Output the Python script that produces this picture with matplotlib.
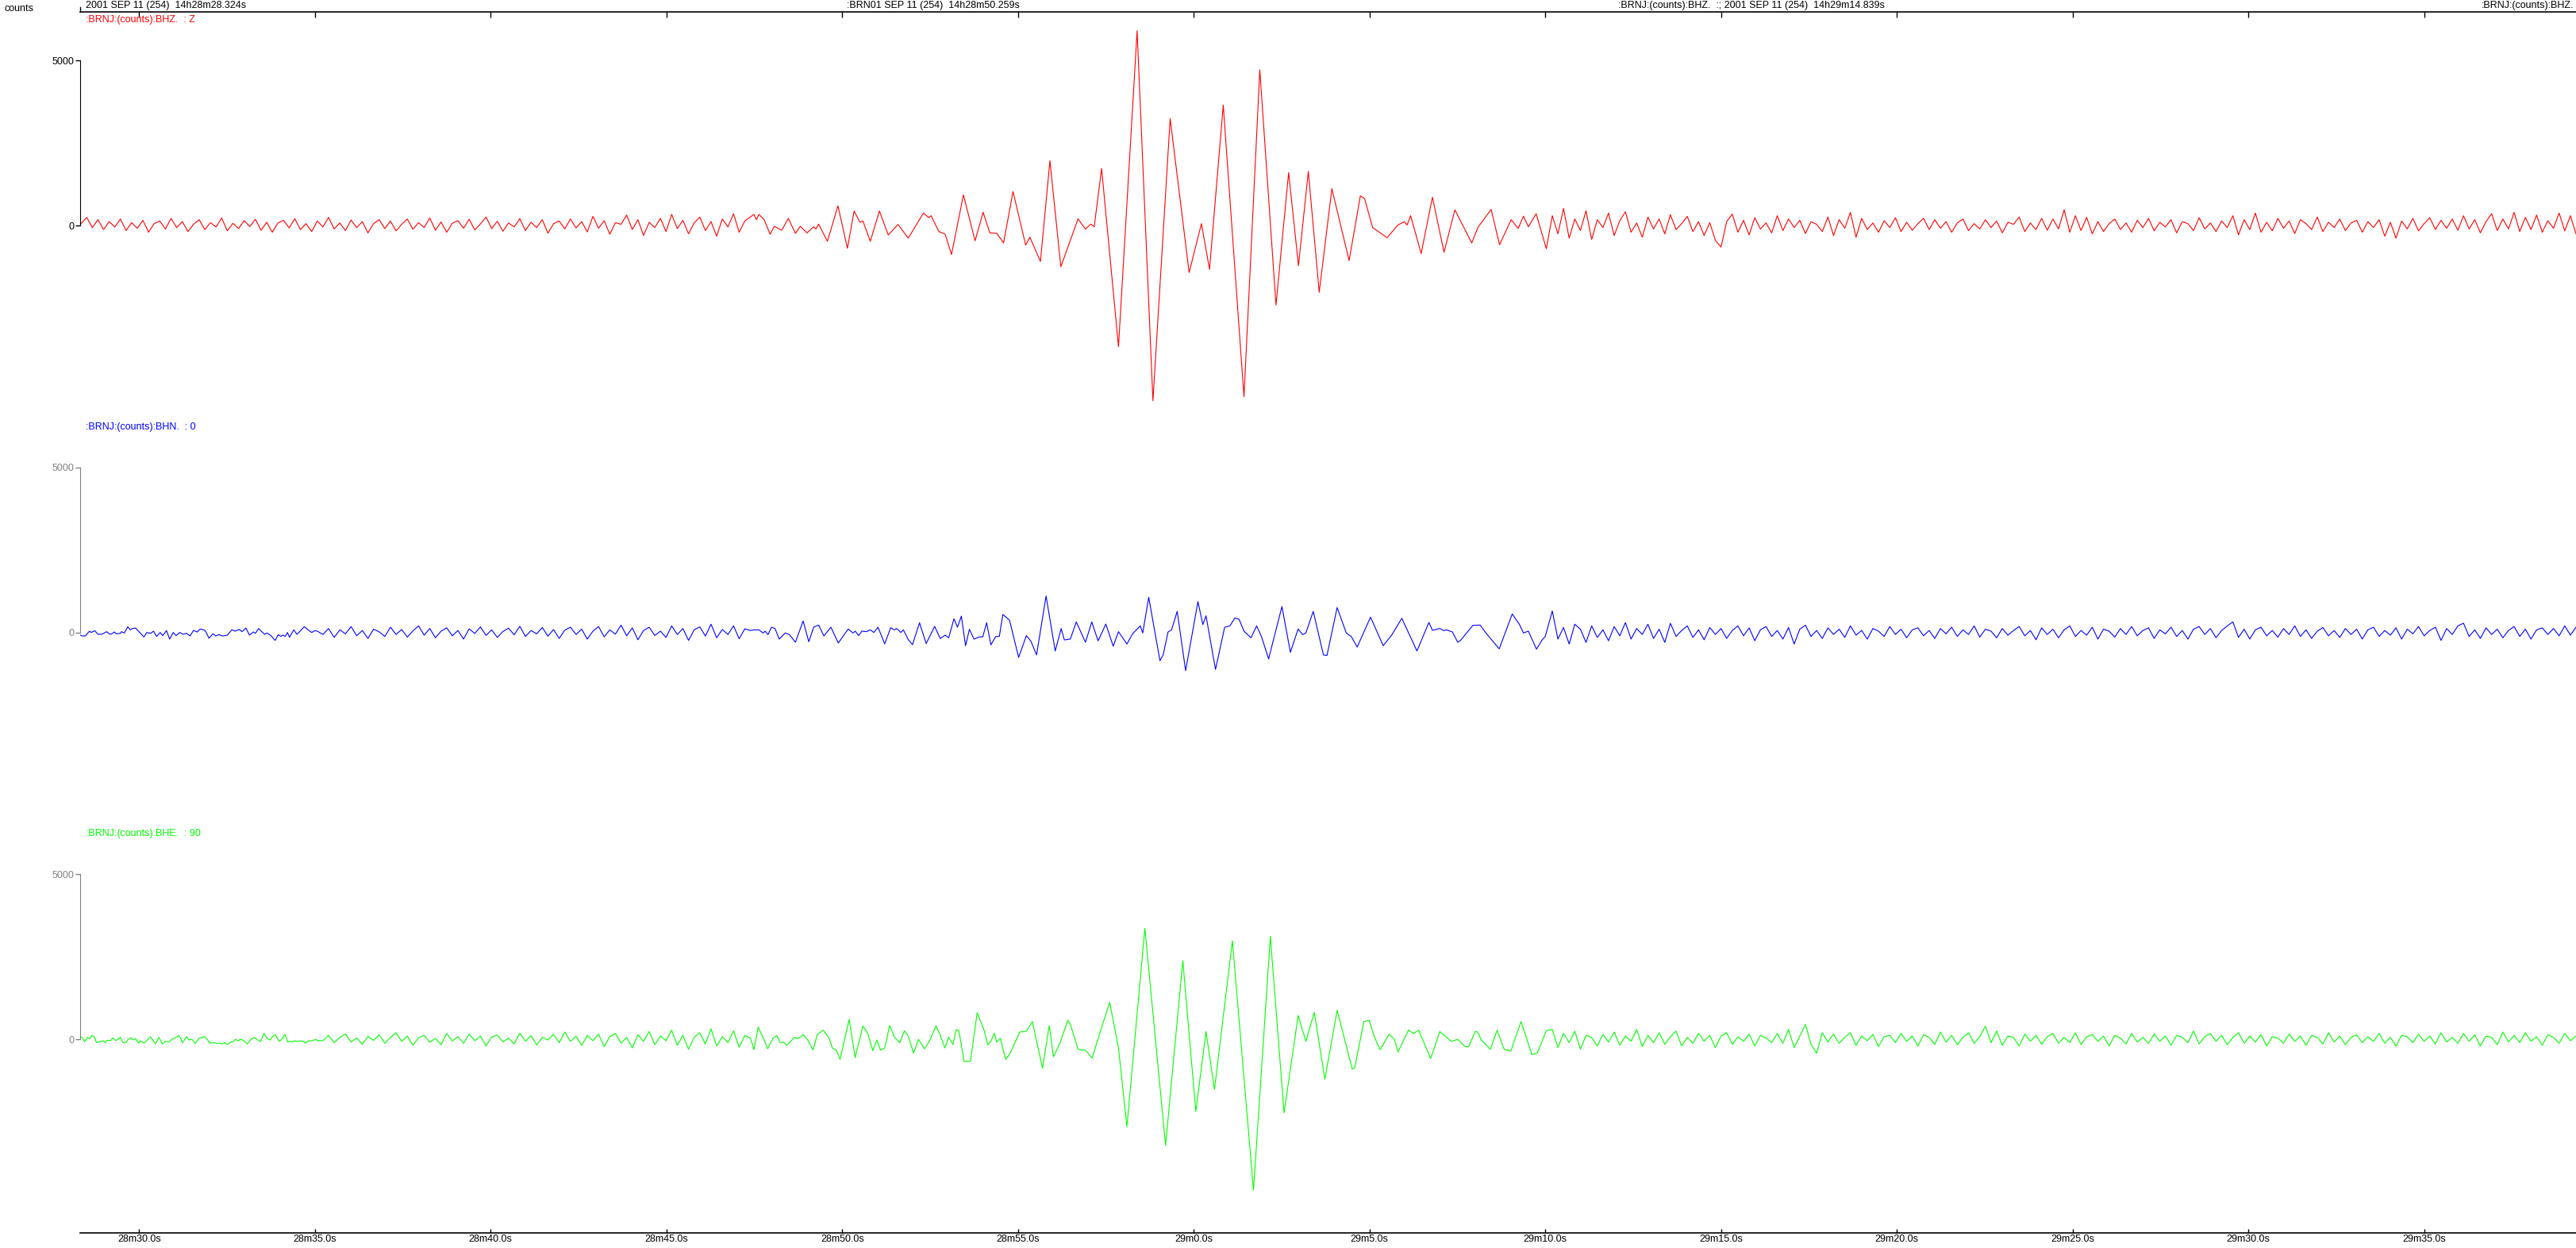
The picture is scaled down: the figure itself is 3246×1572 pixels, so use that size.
import numpy as np
import matplotlib.pyplot as plt
from matplotlib.lines import Line2D

plt.rcParams['font.family'] = ['Liberation Sans', 'DejaVu Sans']

# time axis: seconds after 14h28m00s, amplitude in counts
t_start = 28.324
t_end = 99.32
noise_dt = 0.16   # spacing of the hand-read background wiggles

# ---------------- BHZ (red) ----------------
bhz_left = [60, 250, -60, 180, -120, 120, -40, 200, -150, 90,
            -80, 160, -200, 60, 140, -100, 220, -60, 120, -180,
            40, 180, -120, 90, -40, 230, -160, 70, -90, 150,
            -30, 190, -140, 100, -200, 80, 160, -70, 210, -120,
            60, -180, 140, -40, 250, -100, 80, -150, 170, -60,
            120, -220, 60, 180, -90, 140, -160, 40, 200, -110,
            90, -60, 230, -140, 110, -200, 70, 150, -80, 190,
            -130, 50, 260, -90, 130, -170, 80, -40, 210, -150,
            100, -60, 180, -230, 60, 140, -100, 200, -70, 120,
            -190, 280, -80, 150, -260, 90, 40, 320, -120, 180,
            -300, 100, -60, 220, -180, 340, -90, 160, -250, 80,
            260, -150, 120, -320, 200, -40, 360, -200, 140]
bhz_left_t0 = 28.35

bhz_t = [47.49, 47.56, 47.63, 47.78, 47.95, 48.07, 48.28, 48.47, 48.67, 48.81, 49.00, 49.19, 49.25, 49.33,
         49.58, 49.88, 50.15, 50.34, 50.51, 50.59, 50.80, 51.06, 51.31, 51.59, 51.88, 52.31, 52.46, 52.53,
         52.75, 52.93, 53.11, 53.45, 53.78, 54.01, 54.20, 54.40, 54.59, 54.86, 55.22, 55.34, 55.64, 55.91,
         56.22, 56.71, 56.92, 57.07, 57.17, 57.38, 57.86, 58.39, 58.84, 59.33, 59.87, 60.22, 60.45, 60.84,
         61.43, 61.88, 62.34, 62.70, 62.98, 63.26, 63.57, 63.93, 64.42, 64.74, 64.86, 65.09, 65.50, 65.81,
         65.99, 66.07, 66.17, 66.47, 66.79, 67.12, 67.43, 67.59, 67.91, 68.08, 68.46, 68.70, 69.03, 69.23,
         69.38, 69.52, 69.74, 70.03]
bhz_c = [340, 180, 340, 180, -260, -20, -140, 220, -235, -20, -220, -35, -100, 45,
         -475, 600, -685, 440, 100, 140, -475, 445, -285, 35, -380, 380, 245, 300,
         -180, -260, -875, 930, -460, 405, -220, -235, -525, 1030, -590, -350, -1085, 1965,
         -1245, 205, -105, 45, -35, 1730, -3665, 5900, -5305, 3240, -1420, 60, -1325, 3650,
         -5185, 4720, -2405, 1605, -1215, 1640, -2020, 1120, -1060, 900, 820, -60, -365, 20,
         120, 20, 300, -845, 860, -805, 480, 140, -525, -60, 490, -580, 180, -85,
         285, -35, 360, -700]

bhz_right = [300, -250, 520, -380, 200, -150, 450, -420, 180, -60,
             380, -300, 150, 420, -200, 80, -350, 260, -100, 200,
             -250, 330, -120, 60, 280, -180, 120, -300, 90, -450,
             -650, 120, 350, -200, 160, -280, 240, -100, 80, -220,
             300, -150, 200, -60, 160, -240, 120, 40, -180, 260,
             -300, 180, -80, 400, -350, 220, -120, 80, -200, 150,
             -60, 240, -180, 100, -140, 60, 220, -120, 180, -80,
             120, -200, 80, 200, -150, 60, -100, 180, -60, 140,
             -220, 100, 40, 260, -180, 80, -120, 220, -140, 200,
             -100, 480, -200, 300, -150, 250, -250, 120, -180, 60,
             200, -120, 80, -200, 160, -60, 220, -160, 100, -40,
             180, -220, 120, 60, -150, 240, -100, 80, -180, 140,
             -60, 300, -280, 180, -120, 380, -200, 100, -160, 220,
             -80, 140, -240, 180, 60, -120, 260, -180, 100, -60,
             200, -150, 80, 160, -200, 120, -60, 180, -320, 100,
             -380, 140, -100, 220, -160, 60, 240, -120, 160, -80,
             200, -140, 300, -100, 180, -220, 120, 360, -150, 200,
             -100, 400, -180, 250, -120, 320, -200, 150, -80, 380, -160, 300, -250]
right_t0 = 70.2

# ---------------- BHN (blue) ----------------
bhn_t_a = [28.32, 28.39, 28.47, 28.59, 28.64, 28.74, 28.83, 28.94, 29.08, 29.15, 29.20, 29.30, 29.35,
           29.47, 29.50, 29.58, 29.68, 29.75, 29.81, 29.90, 29.96, 30.14, 30.22, 30.33, 30.41, 30.50,
           30.60, 30.67, 30.78, 30.87, 30.97, 31.05, 31.16, 31.25, 31.35, 31.45, 31.55, 31.65, 31.74,
           31.84, 31.89, 31.99, 32.10, 32.18, 32.27, 32.38, 32.51, 32.64, 32.74, 32.85, 32.93, 33.04,
           33.14, 33.25, 33.31, 33.40, 33.49, 33.57, 33.64, 33.76, 33.87, 33.96, 34.03, 34.09, 34.16,
           34.22, 34.28, 34.40, 34.49, 34.58, 34.70, 34.81, 34.91, 35.00, 35.07]
bhn_c_a = [-80, -105, -105, 40, 0, 55, -55, -55, 25, -40, -55, 15, -40,
           -25, 25, -15, 175, 80, 120, 135, 65, -135, 0, -25, 40, -120,
           0, -95, 55, -200, 0, -95, 0, -55, -25, -105, 65, 15, 105,
           80, 40, -175, -40, -105, -65, -105, -80, 80, 40, 95, 25, 135,
           -80, 15, -25, 120, 25, -55, -15, -105, -240, -65, -120, -80, -120,
           0, -145, 80, -55, 40, 175, 80, 0, 55, 40]
bhn_left = [-60, 120, -150, 80, -40, 180, -100, 60, -180, 100,
            20, -120, 160, -60, 90, -140, 50, 200, -80, 120,
            -160, 40, 140, -100, 60, -200, 110, -30, 170, -90,
            80, -150, 30, 130, -70, 190, -120, 60, -40, 150,
            -110, 90, -180, 70, 160, -60, 100, -200, 40, 180,
            -130, 80, -50, 220, -100, 140, -220, 60, 160, -90,
            40, -150, 200, -60, 120, -240, 80, 170, -110, 250,
            -160, 90, -60, 200, -190, 110, 60]
mid_t0 = 35.23

bhn_t = [47.49, 47.63, 47.75, 47.81, 47.89, 47.99, 48.09, 48.21, 48.38, 48.50, 48.67, 48.89, 49.05, 49.19,
         49.33, 49.48, 49.68, 49.89, 50.17, 50.31, 50.37, 50.47, 50.56, 50.69, 50.80, 50.90, 51.02, 51.21,
         51.38, 51.48, 51.55, 51.67, 51.74, 51.88, 52.00, 52.20, 52.39, 52.63, 52.79, 52.93, 53.03, 53.18,
         53.28, 53.39, 53.51, 53.62, 53.75, 53.90, 54.00, 54.11, 54.23, 54.37, 54.47, 54.57, 54.76, 55.02,
         55.24, 55.37, 55.53, 55.80, 56.06, 56.23, 56.32, 56.49, 56.66, 56.92, 57.10, 57.28, 57.50, 57.71,
         57.86, 58.10, 58.26, 58.48, 58.55, 58.72, 59.04, 59.13, 59.27, 59.37, 59.53, 59.77, 60.12, 60.26,
         60.35, 60.62, 60.88, 61.03, 61.17, 61.29, 61.43, 61.63, 61.79, 61.93, 62.13, 62.51, 62.75, 62.97,
         63.10, 63.19, 63.40, 63.69, 63.79, 64.08, 64.34, 64.48, 64.65, 65.03, 65.39, 65.63, 65.92, 66.35,
         66.69, 66.79, 67.00, 67.12, 67.19, 67.36, 67.51, 67.59, 67.94, 68.15, 68.30, 68.69, 69.06, 69.26,
         69.38, 69.52, 69.75, 69.91, 70.00]
bhn_c = [80, 80, -15, 40, -65, 160, 120, -200, -15, -65, -295, 350, -280, 160,
         225, -105, 160, -320, 105, -15, 40, -95, 40, 25, 80, 0, 160, -345,
         145, 80, 120, 0, 80, -215, -370, 295, -335, 185, -185, -80, -160, 415,
         160, 495, -400, 95, -200, -135, -130, 295, -375, -120, -120, 545, 375, -755,
         -95, -265, -680, 1105, -560, 120, -225, -200, 320, -295, 320, -255, 255, -415,
         25, -350, -40, 200, -15, 1065, -855, -680, 15, 80, 640, -1155, 935, 240,
         505, -1120, 160, 200, 440, 400, 40, -160, 200, -135, -800, 785, -600, 105,
         -65, -15, 640, -680, -695, 755, -15, -120, -440, 465, -400, -80, 430, -560,
         305, 65, 120, 55, 80, 15, -295, -240, 215, 225, 0, -495, 560, 255,
         -15, 40, -505, -225, -120]

bhn_right = [650, -200, 150, -350, 250, 100, -300, 200, -150, 80,
             -250, 180, -100, 300, -200, 120, -60, 250, -180, 100,
             -300, 280, -120, 60, 200, -150, 80, -220, 150, -60,
             120, -180, 60, 200, -100, 140, -250, 80, 180, -120,
             60, -200, 150, -350, 100, 220, -120, 60, -180, 140,
             -60, 100, -150, 200, -80, 60, -200, 120, 40, -120,
             180, -60, 100, -160, 80, 140, -100, 60, -180, 120,
             -40, 160, -120, 80, -60, 200, -140, 100, 40, -160,
             120, -80, 60, 180, -100, 60, -220, 140, -60, 100,
             -160, 80, 200, -120, 60, -80, 160, -200, 100, 40,
             -140, 120, -60, 180, -100, 60, 140, -180, 80, -40,
             160, -120, 60, -200, 100, 180, -60, 120, -160, 60,
             200, 320, -150, 100, -200, 80, 160, -100, 60, -140,
             120, -60, 200, -120, 80, -180, 40, 150, -100, 60,
             -150, 120, -60, 100, -200, 80, 160, -120, 60, -80,
             140, -200, 100, -40, 180, -100, 60, 160, -240, 120,
             -60, 200, 280, -120, 80, -180, 140, -60, 100, -160,
             60, 180, -120, 100, -200, 80, 140, -60, 120, -100, 200, -80, 160]

# ---------------- BHE (green) ----------------
bhe_t_a = [28.34, 28.39, 28.45, 28.53, 28.59, 28.66, 28.72, 28.79, 28.90, 28.99, 29.04, 29.09, 29.19,
           29.26, 29.34, 29.39, 29.47, 29.54, 29.62, 29.69, 29.77, 29.84, 29.90, 29.99, 30.03, 30.14,
           30.22, 30.33, 30.39, 30.47, 30.56, 30.67, 30.75, 30.86, 30.93, 31.02, 31.14, 31.24, 31.35,
           31.42, 31.50, 31.60, 31.70, 31.80, 31.87, 31.95, 32.03, 32.14, 32.21, 32.29, 32.36, 32.44,
           32.51, 32.59, 32.66, 32.74, 32.82, 32.89, 32.97, 33.08, 33.15, 33.27, 33.34, 33.42, 33.46,
           33.55, 33.64, 33.73, 33.81, 33.88, 33.98, 34.06, 34.15, 34.23, 34.28, 34.36, 34.43, 34.51,
           34.58, 34.66, 34.73, 34.81, 34.92, 35.03, 35.07]
bhe_c_a = [75, 45, -75, 60, 20, 115, 85, -100, -60, -45, -100, -35, -35,
           45, -35, 0, 60, -100, -100, 0, 45, -20, 20, -115, -45, -115,
           -35, 75, -20, -140, 60, -140, -60, -75, 0, 45, 115, -100, 85,
           -20, 5, -125, 35, 60, 85, -20, -115, -100, -125, -115, -140, -100,
           -155, -100, -75, 0, -45, 5, -35, -140, -35, 60, 5, -45, -60,
           180, 35, -20, 100, 140, -60, 0, 155, -85, -60, -75, -45, -60,
           -45, -60, -115, -45, -45, 0, -35]
bhe_left = [-40, 120, -100, 60, 160, -80, 40, -150, 90, -30,
            140, -120, 60, 200, -60, 100, -180, 50, 120, -90,
            30, -160, 180, -50, 80, -120, 160, -40, 100, -200,
            70, 130, -80, 40, -140, 190, -60, 110, -170, 60,
            -20, 150, -100, 220, -60, 90, -180, 120, -40, 160,
            -220, 80, 180, -120, 60, -260, 140, -60, 240, -160,
            100, -40, 280, -180, 120, -300, 60, 200, -140, 320,
            -200, 80, -100, 260, -240, 120, 40]

bhe_t = [47.49, 47.61, 47.75, 47.88, 48.04, 48.14, 48.24, 48.33, 48.43, 48.64, 48.74, 48.90, 49.03, 49.17,
         49.29, 49.46, 49.62, 49.72, 49.84, 49.94, 50.20, 50.37, 50.59, 50.73, 50.87, 50.99, 51.09, 51.21,
         51.35, 51.49, 51.64, 51.77, 51.88, 52.03, 52.17, 52.34, 52.49, 52.67, 52.77, 52.92, 53.03, 53.15,
         53.25, 53.32, 53.47, 53.65, 53.84, 54.04, 54.14, 54.23, 54.33, 54.40, 54.50, 54.65, 54.76, 54.93,
         55.05, 55.24, 55.41, 55.70, 55.89, 56.01, 56.20, 56.42, 56.49, 56.71, 56.85, 56.92, 57.11, 57.35,
         57.61, 57.86, 58.10, 58.61, 59.20, 59.69, 60.06, 60.35, 60.59, 61.10, 61.70, 62.18, 62.57, 62.97,
         63.19, 63.43, 63.73, 64.08, 64.51, 64.58, 64.84, 64.99, 65.13, 65.30, 65.56, 65.71, 65.81, 66.11,
         66.25, 66.40, 66.74, 67.00, 67.33, 67.51, 67.72, 67.82, 68.01, 68.08, 68.18, 68.44, 68.63, 68.83,
         69.02, 69.31, 69.62, 69.77, 70.03]
bhe_c = [-315, 365, 60, -285, 45, 115, -100, -85, -180, 60, 20, 140, -35, -325,
         140, 275, 60, -260, -340, -605, 605, -555, 405, 180, -340, -20, -325, -260,
         420, 60, -100, 260, 100, -420, 0, -285, -35, 405, 180, -260, 60, -155,
         300, 260, -675, -660, 805, 275, -165, -60, 180, -85, 35, -605, -460, -60,
         220, 245, 540, -875, 420, -525, -100, 580, 460, -300, -325, -325, -565, 260,
         1120, -260, -2645, 3360, -3210, 2385, -2185, 235, -1520, 2985, -4570, 3120, -2225, 720,
         -60, 820, -1205, 880, -900, -860, 540, 580, 100, -315, 155, 5, -380, 285,
         180, 275, -580, 235, -60, 0, -220, -225, 245, 220, -20, -300, 275, -300,
         -355, 540, -460, -420, 260]

bhe_right = [300, -250, 180, -100, 250, -300, 120, 60, -200, 150,
             -80, 220, -180, 100, -60, 300, -220, 120, -100, 200,
             -150, 80, 250, -200, 60, -120, 180, -60, 120, -250,
             100, 200, -150, 80, -60, 160, -200, 120, 40, -100,
             180, -120, 300, -250, 100, 450, -150, -420, 200, -80,
             160, -120, 60, 200, -180, 100, -40, 150, -220, 80,
             120, -100, 180, -60, 100, -200, 140, 60, -150, 220,
             -80, 120, -160, 60, 200, -120, 80, 400, -100, 250,
             -180, 100, 60, -200, 160, -60, 120, -150, 80, 180,
             -120, 60, -100, 200, -160, 80, 140, -60, 100, -200,
             120, 40, -140, 180, -80, 60, -120, 160, -60, 100,
             -180, 120, 60, -100, 250, -140, 80, 180, -60, 120,
             -160, 60, 200, -120, 100, -80, 140, -200, 80, 40,
             -120, 160, -60, 100, -180, 120, 60, -140, 200, -80,
             100, -160, 60, 140, -100, 80, -60, 180, -120, 60,
             -200, 120, 80, -100, 160, -60, 100, -140, 200, -80,
             60, -120, 180, -60, 140, -200, 100, 60, -160, 220,
             -80, 120, -100, 200, -60, 80, -180, 140, 60, -120, 180, -40, 100]


def grid(t0, vals):
    return list(t0 + noise_dt * np.arange(len(vals)))


red_x = grid(bhz_left_t0, bhz_left) + bhz_t + grid(right_t0, bhz_right)
red_y = bhz_left + bhz_c + bhz_right
blue_x = bhn_t_a + grid(mid_t0, bhn_left) + bhn_t + grid(right_t0, bhn_right)
blue_y = bhn_c_a + bhn_left + bhn_c + bhn_right
green_x = bhe_t_a + grid(mid_t0, bhe_left) + bhe_t + grid(right_t0, bhe_right)
green_y = bhe_c_a + bhe_left + bhe_c + bhe_right

traces = [(red_x, red_y, '#ff0000', ':BRNJ:(counts):BHZ.  : Z', 'black'),
          (blue_x, blue_y, '#0000ff', ':BRNJ:(counts):BHN.  : 0', '#808080'),
          (green_x, green_y, '#00ff00', ':BRNJ:(counts):BHE.  : 90', '#808080')]

W, H = 3246, 1572
fig = plt.figure(figsize=(W / 100, H / 100), dpi=100)

left_px = 101
top_px = 15
band = 512.5
ticks5 = np.arange(30, 100, 5)


def fmt_time(s):
    return '%dm%.1fs' % (28 + int(s // 60), s % 60)


axes = []
for k, (tt, cc, col, lab, axcol) in enumerate(traces):
    ax = fig.add_axes([left_px / W, 1 - (top_px + band * (k + 1)) / H,
                       (W - left_px) / W, band / H])
    ax.plot(tt, cc, color=col, lw=0.8)
    ax.set_xlim(t_start, t_end)
    ax.set_ylim(-5849, 6471)
    for s in ['top', 'bottom', 'right']:
        ax.spines[s].set_visible(False)
    ax.spines['left'].set_bounds(0, 5000)
    ax.spines['left'].set_color(axcol)
    ax.set_yticks([0, 5000])
    ax.tick_params(axis='y', colors=axcol, length=4.3, width=1, labelsize=9, pad=1)
    ax.set_xticks([])
    ax.text(7 / (W - left_px), 1 - 10 / band, lab, transform=ax.transAxes,
            color=col, fontsize=9, va='center', ha='left')
    ax.patch.set_alpha(0)
    axes.append(ax)

# top time axis
ax0 = axes[0]
ax0.spines['top'].set_visible(True)
ax0.spines['top'].set_linewidth(1.2)
ax0.xaxis.set_ticks_position('top')
ax0.set_xticks(ticks5)
ax0.tick_params(axis='x', direction='in', length=4.8, width=1, labeltop=False, labelbottom=False)

# bottom time axis
ax2 = axes[2]
ax2.spines['bottom'].set_visible(True)
ax2.spines['bottom'].set_linewidth(1.2)
ax2.set_xticks(ticks5)
ax2.set_xticklabels([fmt_time(s) for s in ticks5])
ax2.tick_params(axis='x', direction='in', length=3.8, width=1, labelsize=9, pad=2)

# small upward tick at top-left
fig.add_artist(Line2D([left_px / W, left_px / W], [1 - 9 / H, 1 - 15 / H], color='black', lw=1))

fig.text(5 / W, 1 - 11 / H, 'counts', fontsize=9, va='center', ha='left')
top_labels = [(108, '2001 SEP 11 (254)  14h28m28.324s'),
              (1067, ':BRN01 SEP 11 (254)  14h28m50.259s'),
              (2039, ':BRNJ:(counts):BHZ.  :; 2001 SEP 11 (254)  14h29m14.839s'),
              (3127, ':BRNJ:(counts):BHZ.')]
for xp, txt in top_labels:
    fig.text(xp / W, 1 - 7 / H, txt, fontsize=9, va='center', ha='left')

fig.savefig('out.png', dpi=100, facecolor='white')
